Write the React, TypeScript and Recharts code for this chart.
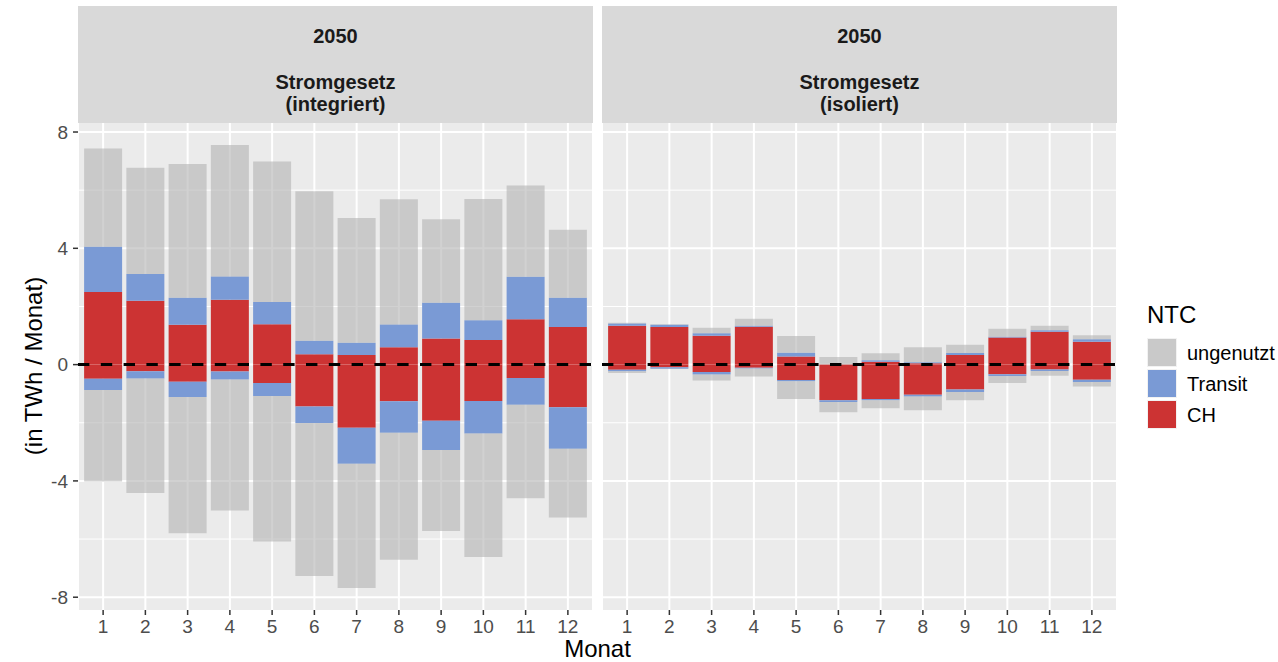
import React from 'react';
import { BarChart, Bar, XAxis, YAxis, CartesianGrid, ReferenceLine } from 'recharts';

const months = ['1', '2', '3', '4', '5', '6', '7', '8', '9', '10', '11', '12'];

// Stromgesetz (integriert)
const intChPos = [2.5, 2.2, 1.37, 2.23, 1.39, 0.36, 0.33, 0.6, 0.9, 0.85, 1.56, 1.29];
const intTrPos = [1.55, 0.92, 0.93, 0.8, 0.76, 0.46, 0.42, 0.78, 1.23, 0.68, 1.46, 1.01];
const intUnPos = [3.38, 3.65, 4.6, 4.52, 4.84, 5.14, 4.29, 4.31, 2.87, 4.17, 3.14, 2.34];
const intChNeg = [-0.49, -0.23, -0.59, -0.24, -0.63, -1.44, -2.17, -1.26, -1.93, -1.25, -0.46, -1.47];
const intTrNeg = [-0.38, -0.25, -0.52, -0.27, -0.45, -0.57, -1.24, -1.08, -1.01, -1.12, -0.92, -1.42];
const intUnNeg = [-3.15, -3.94, -4.69, -4.51, -5.0, -5.26, -4.27, -4.37, -2.78, -4.25, -3.22, -2.37];

// Stromgesetz (isoliert)
const isoChPos = [1.34, 1.29, 0.99, 1.3, 0.28, 0, 0.1, 0.05, 0.33, 0.93, 1.13, 0.79];
const isoTrPos = [0.07, 0.08, 0.09, 0.04, 0.13, 0, 0.05, 0.03, 0.07, 0.03, 0.05, 0.08];
const isoUnPos = [0.03, 0.02, 0.19, 0.24, 0.57, 0.26, 0.24, 0.52, 0.28, 0.27, 0.16, 0.14];
const isoChNeg = [-0.18, -0.09, -0.25, -0.11, -0.53, -1.23, -1.18, -1.04, -0.86, -0.33, -0.17, -0.52];
const isoTrNeg = [-0.05, -0.05, -0.09, -0.02, -0.04, -0.06, -0.05, -0.06, -0.08, -0.06, -0.05, -0.08];
const isoUnNeg = [-0.06, -0.01, -0.21, -0.28, -0.61, -0.35, -0.27, -0.47, -0.29, -0.24, -0.16, -0.15];

const yTicks = [-8, -4, 0, 4, 8];
const yMinor = [-6, -2, 2, 6];
const yDomain: [number, number] = [-8.44, 8.31];

const seriesNames = ['ungenutzt', 'Transit', 'CH'];
const COLORS: Record<string, string> = { ungenutzt: '#B3B3B3', Transit: '#7A9AD5', CH: '#CC3333' };

const build = (chP: number[], trP: number[], unP: number[], chN: number[], trN: number[], unN: number[]) =>
  months.map((m, i) => ({
    month: m,
    chP: chP[i],
    chN: chN[i],
    trP: trP[i],
    trN: trN[i],
    unP: unP[i],
    unN: unN[i],
  }));

const dataInt = build(intChPos, intTrPos, intUnPos, intChNeg, intTrNeg, intUnNeg);
const dataIso = build(isoChPos, isoTrPos, isoUnPos, isoChNeg, isoTrNeg, isoUnNeg);

const FONT = '"Liberation Sans", Arial, sans-serif';
const PANEL_W = 515;
const PLOT_TOP = 123;
const PLOT_BOTTOM = 610;
const H = 662;

function Panel({ data, showY, left }: { data: any[]; showY: boolean; left: number }) {
  const yw = 78;
  const width = showY ? PANEL_W + yw : PANEL_W;
  return (
    <div style={{ position: 'absolute', left, top: 0 }}>
      <BarChart
        width={width}
        height={H}
        data={data}
        stackOffset="sign"
        barCategoryGap="5%"
        margin={{ top: PLOT_TOP, right: 0, bottom: H - PLOT_BOTTOM - 30, left: 0 }}
        style={{ fontFamily: FONT }}
      >
        <CartesianGrid horizontalValues={yMinor} vertical={false} stroke="#FFFFFF" strokeWidth={1} fill="#EBEBEB" />
        <CartesianGrid horizontalValues={yTicks} stroke="#FFFFFF" strokeWidth={2} />
        <XAxis
          dataKey="month"
          type="category"
          interval={0}
          padding={{ left: 4, right: 4 }}
          height={30}
          axisLine={false}
          tickSize={5}
          tickMargin={5}
          tickLine={{ stroke: '#333333', strokeWidth: 1.5 }}
          tick={{ fill: '#4D4D4D', fontSize: 19, fontFamily: FONT }}
        />
        <YAxis
          type="number"
          domain={yDomain}
          ticks={yTicks}
          allowDataOverflow
          hide={!showY}
          width={yw}
          axisLine={false}
          tickSize={5}
          tickMargin={5}
          tickLine={{ stroke: '#333333', strokeWidth: 1.5 }}
          tick={{ fill: '#4D4D4D', fontSize: 19, fontFamily: FONT }}
        />
        <Bar dataKey="chP" stackId="a" fill={COLORS.CH} isAnimationActive={false} />
        <Bar dataKey="chN" stackId="a" fill={COLORS.CH} isAnimationActive={false} />
        <Bar dataKey="trP" stackId="a" fill={COLORS.Transit} isAnimationActive={false} />
        <Bar dataKey="trN" stackId="a" fill={COLORS.Transit} isAnimationActive={false} />
        <Bar dataKey="unP" stackId="a" fill={COLORS.ungenutzt} fillOpacity={0.6} isAnimationActive={false} />
        <Bar dataKey="unN" stackId="a" fill={COLORS.ungenutzt} fillOpacity={0.6} isAnimationActive={false} />
        <ReferenceLine y={0} stroke="#000000" strokeWidth={3} strokeDasharray="11.4 11.4" />
      </BarChart>
    </div>
  );
}

function Strip({ left, lines }: { left: number; lines: string[] }) {
  const centers = [36, 82, 104];
  return (
    <div
      style={{
        position: 'absolute',
        left,
        top: 6,
        width: PANEL_W,
        height: PLOT_TOP - 6,
        background: '#D9D9D9',
        fontFamily: FONT,
        fontWeight: 'bold',
        fontSize: 20,
        color: '#1A1A1A',
      }}
    >
      {lines.map((t, i) => (
        <div
          key={i}
          style={{
            position: 'absolute',
            left: 0,
            width: '100%',
            top: centers[i] - 6 - 11,
            height: 22,
            lineHeight: '22px',
            textAlign: 'center',
            whiteSpace: 'nowrap',
          }}
        >
          {t}
        </div>
      ))}
    </div>
  );
}

export default function App() {
  const legendItems = seriesNames;
  return (
    <div
      style={{
        position: 'absolute',
        left: 0,
        top: 0,
        width: 1278,
        height: 662,
        background: '#FFFFFF',
        fontFamily: FONT,
        overflow: 'hidden',
      }}
    >
      <Panel data={dataInt} showY={true} left={0} />
      <Panel data={dataIso} showY={false} left={602} />
      <Strip left={78} lines={['2050', 'Stromgesetz', '(integriert)']} />
      <Strip left={602} lines={['2050', 'Stromgesetz', '(isoliert)']} />
      {/* y-axis title */}
      <div
        style={{
          position: 'absolute',
          left: 34 - 150,
          top: 366 - 13,
          width: 300,
          height: 26,
          lineHeight: '26px',
          textAlign: 'center',
          fontSize: 24,
          color: '#000000',
          transform: 'rotate(-90deg)',
          whiteSpace: 'nowrap',
        }}
      >
        (in TWh / Monat)
      </div>
      {/* x-axis title */}
      <div
        style={{
          position: 'absolute',
          left: 597.5 - 100,
          top: 649 - 13,
          width: 200,
          height: 26,
          lineHeight: '26px',
          textAlign: 'center',
          fontSize: 24,
          color: '#000000',
        }}
      >
        Monat
      </div>
      {/* legend */}
      <div style={{ position: 'absolute', left: 1147, top: 315 - 13, height: 26, lineHeight: '26px', fontSize: 24, color: '#000000' }}>
        NTC
      </div>
      {legendItems.map((name, i) => (
        <React.Fragment key={name}>
          <div
            style={{
              position: 'absolute',
              left: 1147,
              top: 338 + i * 31,
              width: 30,
              height: 29,
              background: '#F2F2F2',
            }}
          >
            <div
              style={{
                position: 'absolute',
                left: 1,
                top: 1,
                width: 28,
                height: 27,
                background: name === 'ungenutzt' ? '#C9C9C9' : COLORS[name],
              }}
            />
          </div>
          <div
            style={{
              position: 'absolute',
              left: 1187,
              top: 338 + i * 31 + 14.5 - 11,
              height: 22,
              lineHeight: '22px',
              fontSize: 20,
              color: '#000000',
              whiteSpace: 'nowrap',
            }}
          >
            {name}
          </div>
        </React.Fragment>
      ))}
    </div>
  );
}
